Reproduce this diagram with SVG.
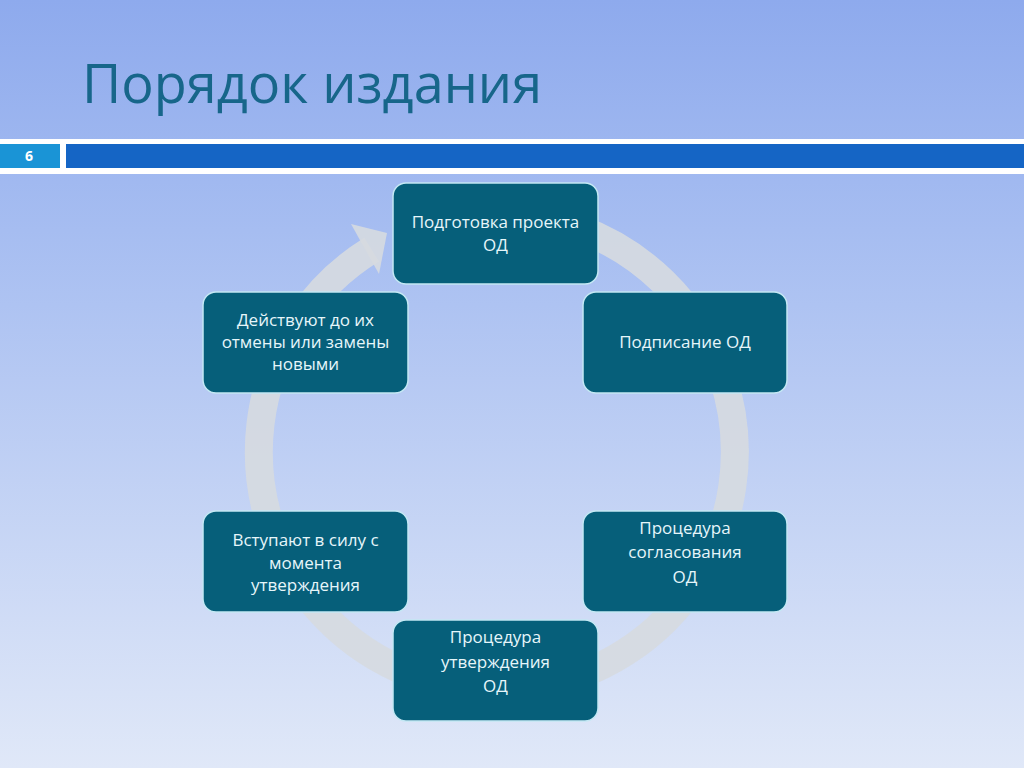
<svg xmlns="http://www.w3.org/2000/svg" width="1024" height="768" viewBox="0 0 1024 768">
<defs>
<linearGradient id="bg" x1="0" y1="0" x2="0" y2="1">
<stop offset="0" stop-color="#8eaaed"/>
<stop offset="0.3" stop-color="#a6bdf1"/>
<stop offset="1" stop-color="#e0e8f8"/>
</linearGradient>
<style>
.node rect{fill:#065f7a;stroke:#c4e8f4;stroke-width:1.5}
.node text{font-family:"Open Sans","Noto Sans",sans-serif;font-size:17px;fill:#e6f6fa;text-anchor:middle}
.ring{fill:none;stroke:#d6dae0;stroke-width:28;opacity:0.9}
</style>
</defs>
<rect width="1024" height="768" fill="url(#bg)"/>
<text x="82" y="103" font-family="Open Sans, Noto Sans, sans-serif" font-size="54" fill="#17668a">Порядок издания</text>
<rect x="0" y="139" width="1024" height="35" fill="#ffffff"/>
<rect x="0" y="144" width="60" height="24" fill="#1a94d6"/>
<rect x="66" y="144" width="958" height="24" fill="#1565c5"/>
<text x="29" y="161" font-family="Open Sans, Noto Sans, sans-serif" font-size="14" font-weight="bold" fill="#ffffff" text-anchor="middle">6</text>
<g id="connectors">
<path class="ring" d="M 578.4 228.4 A 238 238 0 1 1 371.6 249.6"/>
<polygon points="351,224 387,233 379,274" fill="#d6dae0" opacity="0.9"/>
</g>
<g id="n1" class="node"><rect x="393" y="183" width="205" height="101" rx="13"/><text x="495.5" y="228">Подготовка проекта</text><text x="495.5" y="251">ОД</text></g>
<g id="n2" class="node"><rect x="583" y="292" width="204" height="101" rx="13"/><text x="685" y="348">Подписание ОД</text></g>
<g id="n3" class="node"><rect x="583" y="511" width="204" height="101" rx="13"/><text x="685" y="534">Процедура</text><text x="685" y="558">согласования</text><text x="685" y="583">ОД</text></g>
<g id="n4" class="node"><rect x="393" y="620" width="205" height="101" rx="13"/><text x="495.5" y="643">Процедура</text><text x="495.5" y="668">утверждения</text><text x="495.5" y="692">ОД</text></g>
<g id="n5" class="node"><rect x="203" y="511" width="205" height="101" rx="13"/><text x="305.5" y="546">Вступают в силу с</text><text x="305.5" y="569">момента</text><text x="305.5" y="591">утверждения</text></g>
<g id="n6" class="node"><rect x="203" y="292" width="205" height="101" rx="13"/><text x="305.5" y="326">Действуют до их</text><text x="305.5" y="348">отмены или замены</text><text x="305.5" y="370">новыми</text></g>
</svg>
